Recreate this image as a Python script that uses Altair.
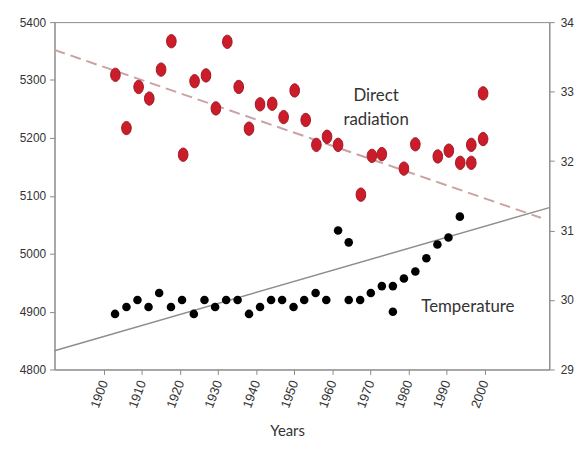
import altair as alt
import pandas as pd

# Direct radiation (left axis)
rad_years = [1903.0, 1905.9, 1909.1, 1911.9, 1915.0, 1917.7, 1920.8, 1923.8, 1926.8, 1929.4,
             1932.4, 1935.4, 1938.1, 1941.0, 1944.2, 1947.2, 1950.1, 1953.0, 1955.8, 1958.6,
             1961.5, 1967.5, 1970.4, 1973.0, 1978.8, 1981.8, 1987.7, 1990.6, 1993.6, 1996.5,
             1996.5, 1999.6, 1999.6]
rad_values = [5309, 5217, 5288, 5268, 5318, 5367, 5171, 5298, 5308, 5251,
              5366, 5288, 5216, 5258, 5259, 5236, 5282, 5231, 5188, 5202,
              5188, 5102, 5169, 5172, 5147, 5189, 5168, 5178, 5157, 5157,
              5188, 5198, 5277]

# Temperature (right axis)
temp_years = [1902.9, 1905.9, 1908.8, 1911.7, 1914.5, 1917.6, 1920.5, 1923.6, 1926.4, 1929.2,
              1932.1, 1935.1, 1938.1, 1941.0, 1943.9, 1946.8, 1949.8, 1952.6, 1955.6, 1958.4,
              1961.5, 1964.3, 1964.3, 1967.3, 1970.1, 1973.0, 1975.9, 1975.9, 1978.8, 1981.8,
              1984.7, 1987.6, 1990.5, 1993.5]
temp_values = [29.8, 29.9, 30.0, 29.9, 30.1, 29.9, 30.0, 29.8, 30.0, 29.9,
               30.0, 30.0, 29.8, 29.9, 30.0, 30.0, 29.9, 30.0, 30.1, 30.0,
               31.0, 30.83, 30.0, 30.0, 30.1, 30.2, 30.2, 29.83, 30.31, 30.41,
               30.6, 30.8, 30.9, 31.2]

rad_trend_years = [1887, 2014.8]
rad_trend_values = [5352, 5062]
temp_trend_years = [1887, 2017]
temp_trend_values = [29.27, 31.33]

x_ticks = [1900, 1910, 1920, 1930, 1940, 1950, 1960, 1970, 1980, 1990, 2000]
rad_ticks = [4800, 4900, 5000, 5100, 5200, 5300, 5400]
temp_ticks = [29, 30, 31, 32, 33, 34]

rad_label = ["Direct", "radiation"]
rad_label_pos = (1971.5, 5272)
temp_label = "Temperature"
temp_label_pos = (1995.6, 29.9)

rad_df = pd.DataFrame({"year": rad_years, "value": rad_values})
temp_df = pd.DataFrame({"year": temp_years, "value": temp_values})
rad_tr = pd.DataFrame({"year": rad_trend_years, "value": rad_trend_values})
temp_tr = pd.DataFrame({"year": temp_trend_years, "value": temp_trend_values})
rad_txt = pd.DataFrame({"year": [rad_label_pos[0]], "value": [rad_label_pos[1]], "t": [rad_label]})
temp_txt = pd.DataFrame({"year": [temp_label_pos[0]], "value": [temp_label_pos[1]], "t": [temp_label]})

xscale = alt.Scale(domain=[1887, 2017], nice=False, zero=False)
rad_scale = alt.Scale(domain=[4800, 5400], nice=False, zero=False)
temp_scale = alt.Scale(domain=[29, 34], nice=False, zero=False)

x_enc = alt.X("year:Q", scale=xscale,
              axis=alt.Axis(values=x_ticks, format="d", labelAngle=-70, labelAlign="right",
                            labelBaseline="middle", title="Years", grid=False,
                            labelFontSize=13, titleFontSize=15, titleFontWeight="normal",
                            titleFont="Lato", titleX=235, titleY=55,
                            labelPadding=6, tickSize=5, labelColor="#333", titleColor="#333",
                            domainColor="#8a8a8a", tickColor="#8a8a8a", labelFont="Liberation Sans"))

rad_axis = alt.Axis(orient="left", values=rad_ticks, format="d", title=None, grid=False,
                    labelFontSize=12, labelColor="#333", tickSize=5, labelPadding=4,
                    domainColor="#8a8a8a", tickColor="#8a8a8a", labelFont="Liberation Sans")
temp_axis = alt.Axis(orient="right", values=temp_ticks, format="d", title=None, grid=False,
                     labelFontSize=12, labelColor="#333", tickSize=5, labelPadding=6,
                     domainColor="#8a8a8a", tickColor="#8a8a8a", labelFont="Liberation Sans")

ellipse = "M0,-1 A0.72,1 0 1,1 0,1 A0.72,1 0 1,1 0,-1 Z"

rad_pts = alt.Chart(rad_df).mark_point(shape=ellipse, size=180, filled=True, fill="#cc1c2a",
                                       stroke="#9a1420", strokeWidth=1, opacity=1).encode(
    x=x_enc, y=alt.Y("value:Q", scale=rad_scale, axis=rad_axis))

rad_line = alt.Chart(rad_tr).mark_line(color="#c9a2a2", strokeWidth=2, strokeDash=[11, 6]).encode(
    x=x_enc,
    y=alt.Y("value:Q", scale=rad_scale, axis=None))

temp_line = alt.Chart(temp_tr).mark_line(color="#8e8e8e", strokeWidth=1.5).encode(
    x=x_enc,
    y=alt.Y("value:Q", scale=temp_scale, axis=None))

temp_pts = alt.Chart(temp_df).mark_circle(size=75, color="#000000", opacity=1).encode(
    x=x_enc,
    y=alt.Y("value:Q", scale=temp_scale, axis=temp_axis))

rad_text = alt.Chart(rad_txt).mark_text(font="Lato", fontSize=17, color="#333", align="center",
                                        baseline="middle", lineHeight=24).encode(
    x=x_enc,
    y=alt.Y("value:Q", scale=rad_scale, axis=None),
    text="t")

temp_text = alt.Chart(temp_txt).mark_text(font="Lato", fontSize=17, color="#333", align="center",
                                          baseline="middle").encode(
    x=x_enc,
    y=alt.Y("value:Q", scale=temp_scale, axis=None),
    text="t")

chart = alt.layer(rad_line, temp_line, rad_pts, temp_pts, rad_text, temp_text).resolve_scale(
    y="independent").properties(
    width=500, height=351,
    autosize=alt.AutoSizeParams(type="none"),
    padding={"left": 47, "top": 12, "right": 30, "bottom": 71},
).configure_view(stroke="#8a8a8a", strokeWidth=1)

chart.save("out.html", embed_options={"renderer": "svg", "actions": False})
